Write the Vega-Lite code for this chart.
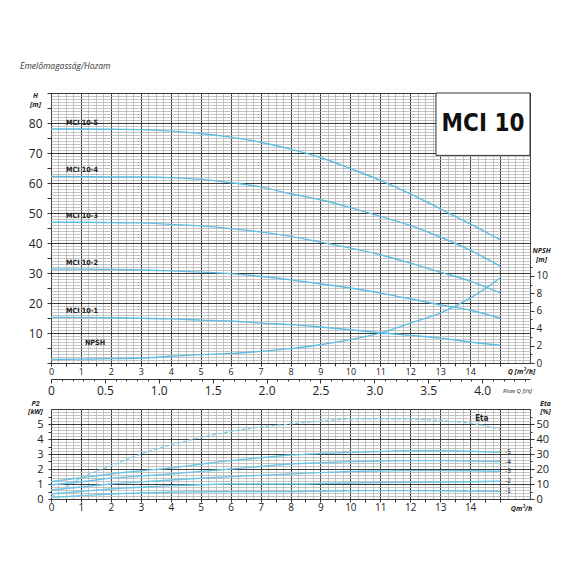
{
  "$schema": "https://vega.github.io/schema/vega-lite/v6.json",
  "background": "white",
  "padding": {"left": 20, "top": 62, "right": 0, "bottom": 0},
  "bounds": "flush",
  "spacing": 46,
  "title": {
    "text": "Emelőmagasság/Hozam",
    "anchor": "start",
    "frame": "group",
    "dx": -31,
    "offset": 16,
    "fontSize": 8.5,
    "fontStyle": "italic",
    "fontWeight": "normal",
    "font": "Open Sans",
    "color": "#333"
  },
  "config": {
    "font": "Open Sans",
    "view": {"stroke": "#333", "strokeWidth": 1},
    "axis": {"labelColor": "#222", "tickColor": "#333", "titleColor": "#222", "labelOverlap": false, "labelFlush": false, "labelBound": false, "tickCount": 500}
  },
  "datasets": {
    "head": [
      {"model": "MCI 10-5", "Q": 0, "H": 78}, {"model": "MCI 10-5", "Q": 1, "H": 78}, {"model": "MCI 10-5", "Q": 2, "H": 77.9}, {"model": "MCI 10-5", "Q": 3, "H": 77.8},
      {"model": "MCI 10-5", "Q": 4, "H": 77.3}, {"model": "MCI 10-5", "Q": 5, "H": 76.5}, {"model": "MCI 10-5", "Q": 6, "H": 75.3}, {"model": "MCI 10-5", "Q": 7, "H": 73.6},
      {"model": "MCI 10-5", "Q": 8, "H": 71.3}, {"model": "MCI 10-5", "Q": 9, "H": 68.5}, {"model": "MCI 10-5", "Q": 10, "H": 64.8}, {"model": "MCI 10-5", "Q": 11, "H": 60.9},
      {"model": "MCI 10-5", "Q": 12, "H": 56.4}, {"model": "MCI 10-5", "Q": 13, "H": 51.4}, {"model": "MCI 10-5", "Q": 14, "H": 46.4}, {"model": "MCI 10-5", "Q": 15, "H": 41.1},
      {"model": "MCI 10-4", "Q": 0, "H": 62.2}, {"model": "MCI 10-4", "Q": 1, "H": 62.1}, {"model": "MCI 10-4", "Q": 2, "H": 62}, {"model": "MCI 10-4", "Q": 3, "H": 62},
      {"model": "MCI 10-4", "Q": 4, "H": 61.8}, {"model": "MCI 10-4", "Q": 5, "H": 61.2}, {"model": "MCI 10-4", "Q": 6, "H": 60.1}, {"model": "MCI 10-4", "Q": 7, "H": 58.7},
      {"model": "MCI 10-4", "Q": 8, "H": 56.4}, {"model": "MCI 10-4", "Q": 9, "H": 54.4}, {"model": "MCI 10-4", "Q": 10, "H": 51.8}, {"model": "MCI 10-4", "Q": 11, "H": 48.9},
      {"model": "MCI 10-4", "Q": 12, "H": 45.9}, {"model": "MCI 10-4", "Q": 13, "H": 42}, {"model": "MCI 10-4", "Q": 14, "H": 37.6}, {"model": "MCI 10-4", "Q": 15, "H": 32.3},
      {"model": "MCI 10-3", "Q": 0, "H": 46.9}, {"model": "MCI 10-3", "Q": 1, "H": 46.9}, {"model": "MCI 10-3", "Q": 2, "H": 46.8}, {"model": "MCI 10-3", "Q": 3, "H": 46.7},
      {"model": "MCI 10-3", "Q": 4, "H": 46.2}, {"model": "MCI 10-3", "Q": 5, "H": 45.7}, {"model": "MCI 10-3", "Q": 6, "H": 44.8}, {"model": "MCI 10-3", "Q": 7, "H": 43.7},
      {"model": "MCI 10-3", "Q": 8, "H": 42.2}, {"model": "MCI 10-3", "Q": 9, "H": 40.3}, {"model": "MCI 10-3", "Q": 10, "H": 38.3}, {"model": "MCI 10-3", "Q": 11, "H": 36.1},
      {"model": "MCI 10-3", "Q": 12, "H": 33.3}, {"model": "MCI 10-3", "Q": 13, "H": 30.3}, {"model": "MCI 10-3", "Q": 14, "H": 27.3}, {"model": "MCI 10-3", "Q": 15, "H": 23.4},
      {"model": "MCI 10-2", "Q": 0, "H": 31.3}, {"model": "MCI 10-2", "Q": 1, "H": 31.3}, {"model": "MCI 10-2", "Q": 2, "H": 31.2}, {"model": "MCI 10-2", "Q": 3, "H": 31},
      {"model": "MCI 10-2", "Q": 4, "H": 30.7}, {"model": "MCI 10-2", "Q": 5, "H": 30.3}, {"model": "MCI 10-2", "Q": 6, "H": 29.8}, {"model": "MCI 10-2", "Q": 7, "H": 28.9},
      {"model": "MCI 10-2", "Q": 8, "H": 27.7}, {"model": "MCI 10-2", "Q": 9, "H": 26.4}, {"model": "MCI 10-2", "Q": 10, "H": 25}, {"model": "MCI 10-2", "Q": 11, "H": 23.3},
      {"model": "MCI 10-2", "Q": 12, "H": 21.4}, {"model": "MCI 10-2", "Q": 13, "H": 19.4}, {"model": "MCI 10-2", "Q": 14, "H": 17.6}, {"model": "MCI 10-2", "Q": 15, "H": 15},
      {"model": "MCI 10-1", "Q": 0, "H": 15.2}, {"model": "MCI 10-1", "Q": 1, "H": 15.2}, {"model": "MCI 10-1", "Q": 2, "H": 15.1}, {"model": "MCI 10-1", "Q": 3, "H": 14.9},
      {"model": "MCI 10-1", "Q": 4, "H": 14.7}, {"model": "MCI 10-1", "Q": 5, "H": 14.3}, {"model": "MCI 10-1", "Q": 6, "H": 14}, {"model": "MCI 10-1", "Q": 7, "H": 13.3},
      {"model": "MCI 10-1", "Q": 8, "H": 12.8}, {"model": "MCI 10-1", "Q": 9, "H": 12}, {"model": "MCI 10-1", "Q": 10, "H": 11.1}, {"model": "MCI 10-1", "Q": 11, "H": 10.1},
      {"model": "MCI 10-1", "Q": 12, "H": 9.2}, {"model": "MCI 10-1", "Q": 13, "H": 8.3}, {"model": "MCI 10-1", "Q": 14, "H": 7}, {"model": "MCI 10-1", "Q": 15, "H": 5.9}
    ],
    "npsh": [
      {"Q": 0, "NPSH": 0.4}, {"Q": 1, "NPSH": 0.45}, {"Q": 2, "NPSH": 0.5}, {"Q": 3, "NPSH": 0.57}, {"Q": 4, "NPSH": 0.77}, {"Q": 5, "NPSH": 0.96},
      {"Q": 6, "NPSH": 1.1}, {"Q": 7, "NPSH": 1.34}, {"Q": 8, "NPSH": 1.65}, {"Q": 9, "NPSH": 2.1}, {"Q": 10, "NPSH": 2.68}, {"Q": 11, "NPSH": 3.43},
      {"Q": 12, "NPSH": 4.58}, {"Q": 13, "NPSH": 5.72}, {"Q": 14, "NPSH": 7.44}, {"Q": 15, "NPSH": 9.73}
    ],
    "power": [
      {"curve": "-5", "Q": 0, "P2": 1.16}, {"curve": "-5", "Q": 1, "P2": 1.42}, {"curve": "-5", "Q": 2, "P2": 1.67}, {"curve": "-5", "Q": 3, "P2": 1.88},
      {"curve": "-5", "Q": 4, "P2": 2.07}, {"curve": "-5", "Q": 5, "P2": 2.32}, {"curve": "-5", "Q": 6, "P2": 2.56}, {"curve": "-5", "Q": 7, "P2": 2.75},
      {"curve": "-5", "Q": 8, "P2": 2.93}, {"curve": "-5", "Q": 9, "P2": 3.03}, {"curve": "-5", "Q": 10, "P2": 3.11}, {"curve": "-5", "Q": 11, "P2": 3.17},
      {"curve": "-5", "Q": 12, "P2": 3.22}, {"curve": "-5", "Q": 13, "P2": 3.22}, {"curve": "-5", "Q": 14, "P2": 3.18}, {"curve": "-5", "Q": 15, "P2": 3.11},
      {"curve": "-4", "Q": 0, "P2": 0.93}, {"curve": "-4", "Q": 1, "P2": 1.15}, {"curve": "-4", "Q": 2, "P2": 1.38}, {"curve": "-4", "Q": 3, "P2": 1.53},
      {"curve": "-4", "Q": 4, "P2": 1.67}, {"curve": "-4", "Q": 5, "P2": 1.84}, {"curve": "-4", "Q": 6, "P2": 2}, {"curve": "-4", "Q": 7, "P2": 2.17},
      {"curve": "-4", "Q": 8, "P2": 2.33}, {"curve": "-4", "Q": 9, "P2": 2.42}, {"curve": "-4", "Q": 10, "P2": 2.49}, {"curve": "-4", "Q": 11, "P2": 2.53},
      {"curve": "-4", "Q": 12, "P2": 2.56}, {"curve": "-4", "Q": 13, "P2": 2.56}, {"curve": "-4", "Q": 14, "P2": 2.53}, {"curve": "-4", "Q": 15, "P2": 2.49},
      {"curve": "-3", "Q": 0, "P2": 0.6}, {"curve": "-3", "Q": 1, "P2": 0.8}, {"curve": "-3", "Q": 2, "P2": 1}, {"curve": "-3", "Q": 3, "P2": 1.14},
      {"curve": "-3", "Q": 4, "P2": 1.27}, {"curve": "-3", "Q": 5, "P2": 1.38}, {"curve": "-3", "Q": 6, "P2": 1.49}, {"curve": "-3", "Q": 7, "P2": 1.58},
      {"curve": "-3", "Q": 8, "P2": 1.67}, {"curve": "-3", "Q": 9, "P2": 1.76}, {"curve": "-3", "Q": 10, "P2": 1.83}, {"curve": "-3", "Q": 11, "P2": 1.87},
      {"curve": "-3", "Q": 12, "P2": 1.89}, {"curve": "-3", "Q": 13, "P2": 1.89}, {"curve": "-3", "Q": 14, "P2": 1.88}, {"curve": "-3", "Q": 15, "P2": 1.85},
      {"curve": "-2", "Q": 0, "P2": 0.33}, {"curve": "-2", "Q": 1, "P2": 0.5}, {"curve": "-2", "Q": 2, "P2": 0.67}, {"curve": "-2", "Q": 3, "P2": 0.78},
      {"curve": "-2", "Q": 4, "P2": 0.89}, {"curve": "-2", "Q": 5, "P2": 0.95}, {"curve": "-2", "Q": 6, "P2": 1}, {"curve": "-2", "Q": 7, "P2": 1},
      {"curve": "-2", "Q": 8, "P2": 1}, {"curve": "-2", "Q": 9, "P2": 1.03}, {"curve": "-2", "Q": 10, "P2": 1.07}, {"curve": "-2", "Q": 11, "P2": 1.1},
      {"curve": "-2", "Q": 12, "P2": 1.11}, {"curve": "-2", "Q": 13, "P2": 1.13}, {"curve": "-2", "Q": 14, "P2": 1.15}, {"curve": "-2", "Q": 15, "P2": 1.18},
      {"curve": "-1", "Q": 0, "P2": 0.11}, {"curve": "-1", "Q": 1, "P2": 0.22}, {"curve": "-1", "Q": 2, "P2": 0.33}, {"curve": "-1", "Q": 3, "P2": 0.4},
      {"curve": "-1", "Q": 4, "P2": 0.45}, {"curve": "-1", "Q": 5, "P2": 0.48}, {"curve": "-1", "Q": 6, "P2": 0.49}, {"curve": "-1", "Q": 7, "P2": 0.49},
      {"curve": "-1", "Q": 8, "P2": 0.49}, {"curve": "-1", "Q": 9, "P2": 0.52}, {"curve": "-1", "Q": 10, "P2": 0.55}, {"curve": "-1", "Q": 11, "P2": 0.56},
      {"curve": "-1", "Q": 12, "P2": 0.56}, {"curve": "-1", "Q": 13, "P2": 0.55}, {"curve": "-1", "Q": 14, "P2": 0.53}, {"curve": "-1", "Q": 15, "P2": 0.51}
    ],
    "eta": [
      {"Q": 0, "Eta": 1}, {"Q": 1, "Eta": 14}, {"Q": 2, "Eta": 22}, {"Q": 3, "Eta": 30}, {"Q": 4, "Eta": 36}, {"Q": 5, "Eta": 41},
      {"Q": 6, "Eta": 45}, {"Q": 7, "Eta": 48}, {"Q": 8, "Eta": 50}, {"Q": 9, "Eta": 52}, {"Q": 10, "Eta": 53.3}, {"Q": 11, "Eta": 53.5},
      {"Q": 12, "Eta": 53.3}, {"Q": 13, "Eta": 52.3}, {"Q": 14, "Eta": 50.5}, {"Q": 15, "Eta": 46.7}
    ],
    "flowLs": [{"ls": 0}, {"ls": 4}],
    "name": [{"name": "MCI 10"}]
  },
  "vconcat": [
    {
      "width": 479,
      "height": 270,
      "layer": [
        {
          "layer": [
            {
              "data": {"name": "head"},
              "mark": {"type": "line", "color": "#5dbde3", "strokeWidth": 1.4, "interpolate": "monotone"},
              "encoding": {
                "x": {
                  "field": "Q", "type": "quantitative",
                  "scale": {"domain": [0, 16], "nice": false, "zero": false},
                  "axis": {
                    "orient": "bottom",
                    "values": [0,0.25,0.5,0.75,1,1.25,1.5,1.75,2,2.25,2.5,2.75,3,3.25,3.5,3.75,4,4.25,4.5,4.75,5,5.25,5.5,5.75,6,6.25,6.5,6.75,7,7.25,7.5,7.75,8,8.25,8.5,8.75,9,9.25,9.5,9.75,10,10.25,10.5,10.75,11,11.25,11.5,11.75,12,12.25,12.5,12.75,13,13.25,13.5,13.75,14,14.25,14.5,14.75,15,15.25,15.5,15.75,16],
                    "tickCount": 500,
                    "grid": true,
                    "gridColor": {"condition": {"test": "datum.value % 1 === 0", "value": "#3a3a3a"}, "value": "#b5b5b5"},
                    "gridWidth": {"condition": {"test": "datum.value % 1 === 0", "value": 1}, "value": 0.8},
                    "domain": false,
                    "tickSize": {"condition": {"test": "datum.value % 0.5 === 0 && datum.value <= 15", "value": 3}, "value": 0},
                    "labelExpr": "datum.value % 1 === 0 && datum.value <= 14 ? format(datum.value, 'd') : ''",
                    "labelFontSize": 9,
                    "labelPadding": 1,
                    "title": "Q [m³/h]",
                    "titleFontSize": 7,
                    "titleFontStyle": "italic",
                    "titleFontWeight": "bold",
                    "titleX": 470,
                    "titleY": 8,
                    "titleAlign": "center",
                    "titleBaseline": "middle"
                  }
                },
                "y": {
                  "field": "H", "type": "quantitative",
                  "scale": {"domain": [0, 90], "nice": false},
                  "axis": {
                    "orient": "left",
                    "values": [0,1,2,3,4,5,6,7,8,9,10,11,12,13,14,15,16,17,18,19,20,21,22,23,24,25,26,27,28,29,30,31,32,33,34,35,36,37,38,39,40,41,42,43,44,45,46,47,48,49,50,51,52,53,54,55,56,57,58,59,60,61,62,63,64,65,66,67,68,69,70,71,72,73,74,75,76,77,78,79,80,81,82,83,84,85,86,87,88,89,90],
                    "tickCount": 500,
                    "grid": true,
                    "gridColor": {"condition": {"test": "datum.value % 10 === 0", "value": "#3a3a3a"}, "value": "#b5b5b5"},
                    "gridWidth": {"condition": {"test": "datum.value % 10 === 0", "value": 1}, "value": 0.8},
                    "domain": false,
                    "tickSize": {"condition": {"test": "datum.value % 5 === 0", "value": 4}, "value": 0},
                    "labelExpr": "datum.value % 10 === 0 && datum.value > 0 && datum.value < 90 ? format(datum.value, 'd') : ''",
                    "labelFontSize": 12,
                    "labelPadding": 5,
                    "title": ["H", "[m]"],
                    "titleAngle": 0,
                    "titleFontSize": 7,
                    "titleFontStyle": "italic",
                    "titleFontWeight": "bold",
                    "titleX": -16,
                    "titleY": 2,
                    "titleAlign": "center",
                    "titleBaseline": "middle",
                    "titleLineHeight": 9
                  }
                },
                "detail": {"field": "model"}
              }
            },
            {
              "data": {"name": "name"},
              "mark": {"type": "rect", "fill": "white", "stroke": "#333", "strokeWidth": 1},
              "encoding": {
                "x": {"datum": 12.86, "type": "quantitative"},
                "x2": {"datum": 16},
                "y": {"datum": 69.2, "type": "quantitative"},
                "y2": {"datum": 90}
              }
            },
            {
              "data": {"name": "name"},
              "mark": {"type": "text", "font": "'Liberation Sans Narrow', 'DejaVu Sans Condensed', 'Roboto Condensed', 'Liberation Sans', sans-serif", "fontWeight": "bold", "fontSize": 24, "color": "#111", "baseline": "middle"},
              "encoding": {
                "x": {"datum": 14.43, "type": "quantitative"},
                "y": {"datum": 79.6, "type": "quantitative"},
                "text": {"field": "name"}
              }
            },
            {
              "data": {"name": "head"},
              "transform": [{"filter": "datum.Q === 0"}],
              "mark": {"type": "text", "font": "'Liberation Sans Narrow', 'DejaVu Sans Condensed', 'Roboto Condensed', 'Liberation Sans', sans-serif", "fontWeight": "bold", "fontSize": 7.2, "color": "#222", "align": "left", "baseline": "middle", "dx": 15, "dy": -6},
              "encoding": {
                "x": {"field": "Q", "type": "quantitative"},
                "y": {"field": "H", "type": "quantitative"},
                "text": {"field": "model"}
              }
            }
          ]
        },
        {
          "layer": [
            {
              "data": {"name": "npsh"},
              "mark": {"type": "line", "color": "#5dbde3", "strokeWidth": 1.4, "interpolate": "monotone"},
              "encoding": {
                "x": {"field": "Q", "type": "quantitative", "scale": {"domain": [0, 16], "nice": false}, "axis": null},
                "y": {
                  "field": "NPSH", "type": "quantitative",
                  "scale": {"domain": [0, 31], "nice": false},
                  "axis": {
                    "orient": "right",
                    "values": [0,1,2,3,4,5,6,7,8,9,10,11],
                    "tickCount": 500,
                    "grid": false,
                    "domain": false,
                    "tickSize": {"condition": {"test": "datum.value % 2 === 0", "value": 4}, "value": 2},
                    "labelExpr": "datum.value % 2 === 0 ? format(datum.value, 'd') : ''",
                    "labelFontSize": 10,
                    "labelPadding": 2,
                    "title": ["NPSH", "[m]"],
                    "titleAngle": 0,
                    "titleFontSize": 7,
                    "titleFontStyle": "italic",
                    "titleFontWeight": "bold",
                    "titleX": 11,
                    "titleY": 157,
                    "titleAlign": "center",
                    "titleBaseline": "middle",
                    "titleLineHeight": 9
                  }
                }
              }
            },
            {
              "data": {"name": "npsh"},
              "transform": [{"filter": "datum.Q === 0"}],
              "mark": {"type": "text", "font": "'Liberation Sans Narrow', 'DejaVu Sans Condensed', 'Roboto Condensed', 'Liberation Sans', sans-serif", "fontWeight": "bold", "fontSize": 7.2, "color": "#222", "align": "center", "baseline": "middle", "dx": 44, "dy": -17},
              "encoding": {
                "x": {"field": "Q", "type": "quantitative"},
                "y": {"field": "NPSH", "type": "quantitative"},
                "text": {"value": "NPSH"}
              }
            }
          ]
        },
        {
          "data": {"name": "flowLs"},
          "mark": {"type": "point", "opacity": 0},
          "encoding": {
            "x": {
              "field": "ls", "type": "quantitative",
              "scale": {"domain": [0, 4.4444], "nice": false},
              "axis": {
                "orient": "bottom",
                "offset": 16,
                "values": [0,0.1,0.2,0.3,0.4,0.5,0.6,0.7,0.8,0.9,1,1.1,1.2,1.3,1.4,1.5,1.6,1.7,1.8,1.9,2,2.1,2.2,2.3,2.4,2.5,2.6,2.7,2.8,2.9,3,3.1,3.2,3.3,3.4,3.5,3.6,3.7,3.8,3.9,4,4.1,4.2,4.3,4.4],
                "tickCount": 500,
                "grid": false,
                "domain": true,
                "domainColor": "#333",
                "tickSize": {"condition": {"test": "abs(datum.value * 2 - round(datum.value * 2)) < 0.000001", "value": 4}, "value": 2},
                "labelExpr": "abs(datum.value * 2 - round(datum.value * 2)) < 0.000001 ? (datum.value === 0 ? '0' : format(datum.value, '.1f')) : ''",
                "labelFontSize": 12,
                "labelPadding": 2,
                "title": "Flow Q [l/s]",
                "titleFontSize": 6,
                "titleFontStyle": "italic",
                "titleFontWeight": "normal",
                "titleX": 466,
                "titleY": 11,
                "titleAlign": "center",
                "titleBaseline": "middle"
              }
            }
          }
        }
      ],
      "resolve": {"scale": {"x": "independent", "y": "independent"}}
    },
    {
      "width": 479,
      "height": 90,
      "layer": [
        {
          "layer": [
            {
              "data": {"name": "power"},
              "mark": {"type": "line", "color": "#6cc5e6", "strokeWidth": 1.4, "interpolate": "monotone"},
              "encoding": {
                "x": {
                  "field": "Q", "type": "quantitative",
                  "scale": {"domain": [0, 16], "nice": false},
                  "axis": {
                    "orient": "bottom",
                    "values": [0,0.25,0.5,0.75,1,1.25,1.5,1.75,2,2.25,2.5,2.75,3,3.25,3.5,3.75,4,4.25,4.5,4.75,5,5.25,5.5,5.75,6,6.25,6.5,6.75,7,7.25,7.5,7.75,8,8.25,8.5,8.75,9,9.25,9.5,9.75,10,10.25,10.5,10.75,11,11.25,11.5,11.75,12,12.25,12.5,12.75,13,13.25,13.5,13.75,14,14.25,14.5,14.75,15,15.25,15.5,15.75,16],
                    "tickCount": 500,
                    "grid": true,
                    "gridColor": {"condition": {"test": "datum.value % 1 === 0", "value": "#3a3a3a"}, "value": "#b5b5b5"},
                    "gridWidth": {"condition": {"test": "datum.value % 1 === 0", "value": 1}, "value": 0.8},
                    "domain": false,
                    "tickSize": {"condition": {"test": "datum.value % 0.5 === 0 && datum.value <= 15", "value": 3}, "value": 0},
                    "labelExpr": "datum.value % 1 === 0 && datum.value <= 14 ? format(datum.value, 'd') : ''",
                    "labelFontSize": 10,
                    "labelPadding": 0,
                    "title": "Qm³/h",
                    "titleFontSize": 7,
                    "titleFontStyle": "italic",
                    "titleFontWeight": "bold",
                    "titleX": 470,
                    "titleY": 9,
                    "titleAlign": "center",
                    "titleBaseline": "middle"
                  }
                },
                "y": {
                  "field": "P2", "type": "quantitative",
                  "scale": {"domain": [0, 6], "nice": false},
                  "axis": {
                    "orient": "left",
                    "values": [0,0.1,0.2,0.3,0.4,0.5,0.6,0.7,0.8,0.9,1,1.1,1.2,1.3,1.4,1.5,1.6,1.7,1.8,1.9,2,2.1,2.2,2.3,2.4,2.5,2.6,2.7,2.8,2.9,3,3.1,3.2,3.3,3.4,3.5,3.6,3.7,3.8,3.9,4,4.1,4.2,4.3,4.4,4.5,4.6,4.7,4.8,4.9,5,5.1,5.2,5.3,5.4,5.5,5.6,5.7,5.8,5.9,6],
                    "tickCount": 500,
                    "grid": true,
                    "gridColor": {"condition": {"test": "datum.value % 1 === 0", "value": "#3a3a3a"}, "value": "#b5b5b5"},
                    "gridWidth": {"condition": {"test": "datum.value % 1 === 0", "value": 1}, "value": 0.8},
                    "gridOpacity": {"condition": {"test": "abs(datum.value * 5 - round(datum.value * 5)) < 0.000001", "value": 1}, "value": 0},
                    "domain": false,
                    "tickSize": {"condition": {"test": "abs(datum.value * 2 - round(datum.value * 2)) < 0.000001 && datum.value <= 5.5", "value": 3}, "value": 0},
                    "labelExpr": "abs(datum.value - round(datum.value)) < 0.000001 && datum.value <= 5 ? format(datum.value, '.0f') : ''",
                    "labelFontSize": 11,
                    "labelPadding": 5,
                    "title": ["P2", "[kW]"],
                    "titleAngle": 0,
                    "titleFontSize": 7,
                    "titleFontStyle": "italic",
                    "titleFontWeight": "bold",
                    "titleX": -16,
                    "titleY": -6,
                    "titleAlign": "center",
                    "titleBaseline": "middle",
                    "titleLineHeight": 8
                  }
                },
                "detail": {"field": "curve"}
              }
            },
            {
              "data": {"name": "power"},
              "transform": [{"filter": "datum.Q === 15"}],
              "mark": {"type": "text", "font": "'Liberation Sans Narrow', 'DejaVu Sans Condensed', 'Roboto Condensed', 'Liberation Sans', sans-serif", "fontSize": 6.5, "color": "#222", "align": "left", "baseline": "middle", "dx": 5},
              "encoding": {
                "x": {"field": "Q", "type": "quantitative"},
                "y": {"field": "P2", "type": "quantitative"},
                "text": {"field": "curve"}
              }
            }
          ]
        },
        {
          "layer": [
            {
              "data": {"name": "eta"},
              "mark": {"type": "line", "color": "#7fcbe6", "strokeWidth": 1.3, "strokeDash": [4, 2], "interpolate": "monotone"},
              "encoding": {
                "x": {"field": "Q", "type": "quantitative", "scale": {"domain": [0, 16], "nice": false}, "axis": null},
                "y": {
                  "field": "Eta", "type": "quantitative",
                  "scale": {"domain": [0, 60], "nice": false},
                  "axis": {
                    "orient": "right",
                    "values": [0,5,10,15,20,25,30,35,40,45,50,55],
                    "tickCount": 500,
                    "grid": false,
                    "domain": false,
                    "tickSize": {"condition": {"test": "datum.value % 10 === 0", "value": 4}, "value": 2},
                    "labelExpr": "datum.value % 10 === 0 ? format(datum.value, 'd') : ''",
                    "labelFontSize": 11,
                    "labelPadding": 2,
                    "title": ["Eta", "[%]"],
                    "titleAngle": 0,
                    "titleFontSize": 7,
                    "titleFontStyle": "italic",
                    "titleFontWeight": "bold",
                    "titleX": 15,
                    "titleY": -6,
                    "titleAlign": "center",
                    "titleBaseline": "middle",
                    "titleLineHeight": 8
                  }
                }
              }
            },
            {
              "data": {"name": "eta"},
              "transform": [{"filter": "datum.Q === 14"}],
              "mark": {"type": "text", "font": "'Liberation Sans Narrow', 'DejaVu Sans Condensed', 'Roboto Condensed', 'Liberation Sans', sans-serif", "fontWeight": "bold", "fontSize": 8, "color": "#222", "align": "left", "baseline": "middle", "dx": 5, "dy": -4},
              "encoding": {
                "x": {"field": "Q", "type": "quantitative"},
                "y": {"field": "Eta", "type": "quantitative"},
                "text": {"value": "Eta"}
              }
            }
          ]
        }
      ],
      "resolve": {"scale": {"x": "independent", "y": "independent"}}
    }
  ]
}
